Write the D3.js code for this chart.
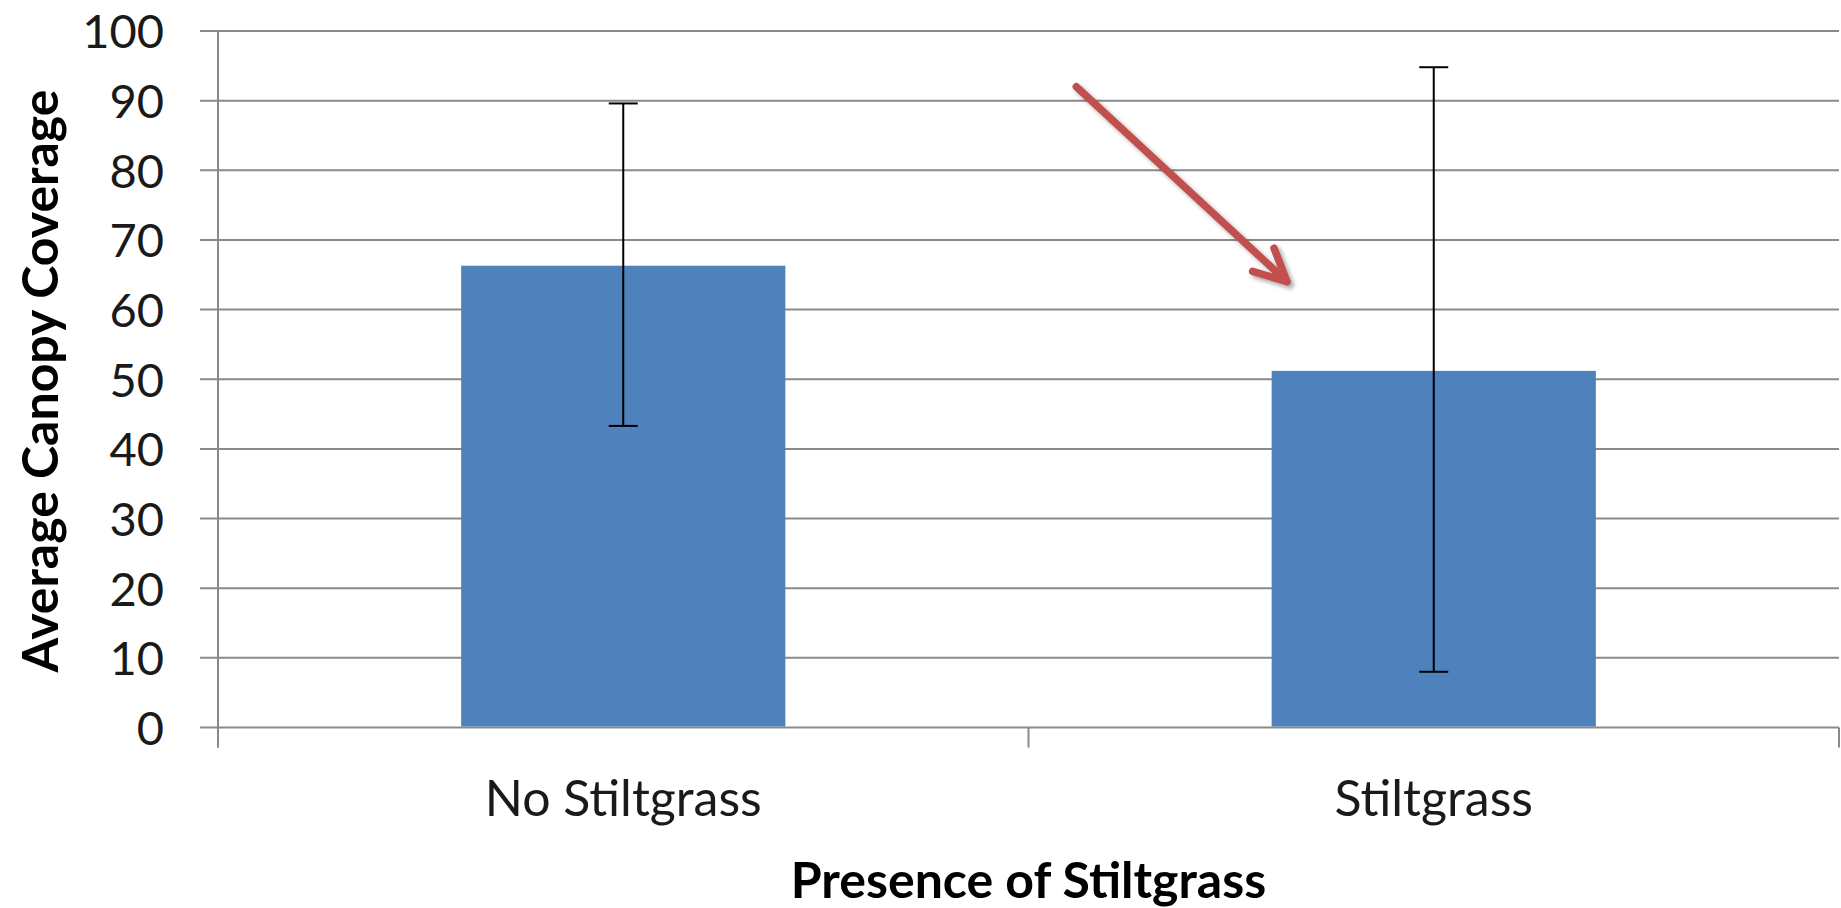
<!DOCTYPE html>
<html>
<head>
<meta charset="utf-8">
<script src="https://cdn.jsdelivr.net/npm/d3@7"></script>
<style>
  html, body { margin: 0; padding: 0; background: #fff; }
  svg { display: block; font-family: Lato, "Open Sans", sans-serif; }
</style>
</head>
<body>
<svg width="1841" height="908"></svg>
<script>
const categories = ["No Stiltgrass", "Stiltgrass"];
const means = [66.3, 51.2];
const errLow = [43.3, 8.0];
const errHigh = [89.6, 94.8];
const yTicks = [0, 10, 20, 30, 40, 50, 60, 70, 80, 90, 100];
// annotation arrow, in [band position 0..2, value] units
const arrowFrom = [1.059, 92.0];
const arrowTo = [1.319, 64.0];

const width = 1841;
const height = 908;
const plotLeft = 218, plotRight = 1839, plotTop = 31, plotBottom = 727.5;

const svg = d3.select("svg").attr("viewBox", [0, 0, width, height]);

const y = d3.scaleLinear().domain([0, 100]).range([plotBottom, plotTop]);
const x = d3.scaleBand().domain(categories).range([plotLeft, plotRight])
  .paddingInner(0.6).paddingOuter(0.3);
const xPos = d3.scaleLinear().domain([0, 2]).range([plotLeft, plotRight]);

const grid = "#8a8a8a";

// gridlines
svg.append("g")
  .selectAll("line")
  .data(yTicks)
  .join("line")
  .attr("x1", plotLeft - 18)
  .attr("x2", plotRight)
  .attr("y1", d => y(d))
  .attr("y2", d => y(d))
  .attr("stroke", grid)
  .attr("stroke-width", 2);

// y axis labels
const yAxis = svg.append("g")
  .attr("transform", `translate(${plotLeft},0)`)
  .call(d3.axisLeft(y).tickValues(yTicks).tickSize(0).tickPadding(54));
yAxis.select(".domain").remove();
yAxis.selectAll("text")
  .attr("font-family", "Lato, sans-serif")
  .attr("font-size", 47)
  .attr("fill", "#1a1a1a")
  .attr("dy", "0.36em");

// axis lines
svg.append("line")
  .attr("x1", plotLeft).attr("x2", plotLeft)
  .attr("y1", plotTop).attr("y2", plotBottom + 20)
  .attr("stroke", grid).attr("stroke-width", 2);

svg.append("g")
  .selectAll("line")
  .data([0, 1, 2])
  .join("line")
  .attr("x1", d => xPos(d)).attr("x2", d => xPos(d))
  .attr("y1", plotBottom).attr("y2", plotBottom + 20)
  .attr("stroke", grid).attr("stroke-width", 2);

// bars
svg.append("g")
  .selectAll("rect")
  .data(categories)
  .join("rect")
  .attr("x", d => x(d))
  .attr("width", x.bandwidth())
  .attr("y", (d, i) => y(means[i]))
  .attr("height", (d, i) => y(0) - y(means[i]) - 1)
  .attr("fill", "#4f81bd");

// error bars
const eb = svg.append("g").attr("stroke", "#000").attr("stroke-width", 2);
categories.forEach((c, i) => {
  const cx = x(c) + x.bandwidth() / 2;
  eb.append("line").attr("x1", cx).attr("x2", cx)
    .attr("y1", y(errLow[i])).attr("y2", y(errHigh[i]));
  [errLow[i], errHigh[i]].forEach(v => {
    eb.append("line").attr("x1", cx - 14.5).attr("x2", cx + 14.5)
      .attr("y1", y(v)).attr("y2", y(v));
  });
});

// x labels
svg.append("g")
  .selectAll("text")
  .data(categories)
  .join("text")
  .attr("x", d => x(d) + x.bandwidth() / 2)
  .attr("y", 816)
  .attr("text-anchor", "middle")
  .attr("font-size", 50)
  .attr("fill", "#1a1a1a")
  .text(d => d);

// axis titles
svg.append("text")
  .attr("x", (plotLeft + plotRight) / 2)
  .attr("y", 898)
  .attr("text-anchor", "middle")
  .attr("font-size", 50)
  .attr("font-weight", "bold")
  .attr("fill", "#000")
  .text("Presence of Stiltgrass");

svg.append("text")
  .attr("transform", `translate(58,381) rotate(-90)`)
  .attr("text-anchor", "middle")
  .attr("font-size", 50)
  .attr("font-weight", "bold")
  .attr("fill", "#000")
  .text("Average Canopy Coverage");

// annotation arrow
const defs = svg.append("defs");
defs.append("filter").attr("id", "shadow")
  .attr("x", "-20%").attr("y", "-20%").attr("width", "140%").attr("height", "140%")
  .append("feDropShadow")
  .attr("dx", 3).attr("dy", 3).attr("stdDeviation", 2)
  .attr("flood-color", "#000").attr("flood-opacity", 0.35);

const x0 = xPos(arrowFrom[0]), y0 = y(arrowFrom[1]);
const x1 = xPos(arrowTo[0]), y1 = y(arrowTo[1]);
const ang = Math.atan2(y1 - y0, x1 - x0) + Math.PI;
const armLen = 36, spread = 26 * Math.PI / 180;
const a1 = [x1 + armLen * Math.cos(ang - spread), y1 + armLen * Math.sin(ang - spread)];
const a2 = [x1 + armLen * Math.cos(ang + spread), y1 + armLen * Math.sin(ang + spread)];

svg.append("path")
  .attr("d", `M${x0},${y0}L${x1},${y1}M${a1[0]},${a1[1]}L${x1},${y1}L${a2[0]},${a2[1]}`)
  .attr("fill", "none")
  .attr("stroke", "#c0504d")
  .attr("stroke-width", 7.5)
  .attr("stroke-linecap", "round")
  .attr("stroke-linejoin", "round")
  .attr("filter", "url(#shadow)");
</script>
</body>
</html>
